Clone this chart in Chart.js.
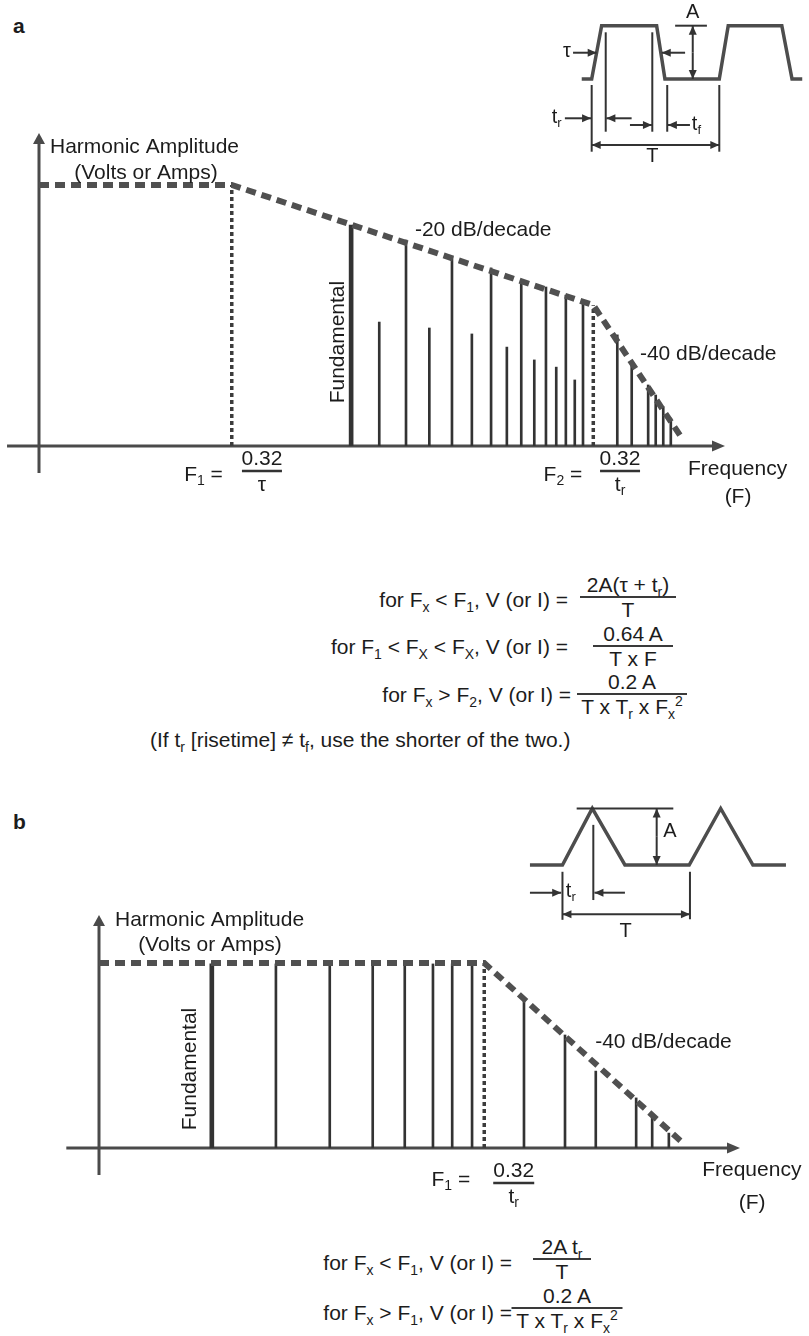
<!DOCTYPE html>
<html>
<head>
<meta charset="utf-8">
<script src="https://cdn.jsdelivr.net/npm/chart.js@4.4.1/dist/chart.umd.min.js"></script>
<style>
  body { margin: 0; background: #fff; width: 809px; height: 1336px; position: relative; overflow: hidden;
         font-family: "Liberation Sans", Arial, sans-serif; color: #1c1c1c; }
  canvas { position: absolute; }
  .panel { position: absolute; font-weight: bold; font-size: 21px; line-height: 24px; }
  .lhs { position: absolute; font-size: 21px; line-height: 24px; white-space: nowrap; text-align: right; }
  .note { position: absolute; font-size: 21px; line-height: 24px; white-space: nowrap; }
  .frac { position: absolute; transform: translateX(-50%); text-align: center; font-size: 21px; white-space: nowrap; }
  .frac .num { line-height: 22px; border-bottom: 2px solid #3a3a3a; }
  .frac .den { line-height: 24px; }
  sub { font-size: 14px; vertical-align: -5px; line-height: 0; }
  sup { font-size: 14px; vertical-align: 8px; line-height: 0; }
</style>
</head>
<body>
<div class="panel" style="left:13px; top:14px">a</div>
<div class="panel" style="left:13px; top:810px">b</div>

<canvas id="insetA" width="269" height="175" style="left:540px; top:0px"></canvas>
<canvas id="chartA" width="809" height="510" style="left:0px; top:0px"></canvas>
<canvas id="insetB" width="309" height="160" style="left:500px; top:790px"></canvas>
<canvas id="chartB" width="809" height="340" style="left:0px; top:880px"></canvas>

<!-- Formulas for panel a -->
<div class="lhs" style="right:241px; top:588px">for F<sub>x</sub> &lt; F<sub>1</sub>, V (or I) =</div>
<div class="frac" style="left:628px; top:574px; width:96px"><div class="num">2A(τ + t<sub>r</sub>)</div><div class="den">T</div></div>
<div class="lhs" style="right:241px; top:635px">for F<sub>1</sub> &lt; F<sub>X</sub> &lt; F<sub>X</sub>, V (or I) =</div>
<div class="frac" style="left:633px; top:623px; width:80px"><div class="num">0.64 A</div><div class="den">T x F</div></div>
<div class="lhs" style="right:238px; top:683px">for F<sub>x</sub> &gt; F<sub>2</sub>, V (or I) =</div>
<div class="frac" style="left:632px; top:671px; width:110px"><div class="num">0.2 A</div><div class="den">T x T<sub>r</sub> x F<sub>x</sub><sup>2</sup></div></div>
<div class="note" style="left:150px; top:728px">(If t<sub>r</sub> [risetime] ≠ t<sub>f</sub>, use the shorter of the two.)</div>

<!-- Formulas for panel b -->
<div class="lhs" style="right:297px; top:1251px">for F<sub>x</sub> &lt; F<sub>1</sub>, V (or I) =</div>
<div class="frac" style="left:562px; top:1236px; width:58px"><div class="num">2A t<sub>r</sub></div><div class="den">T</div></div>
<div class="lhs" style="right:297px; top:1301px">for F<sub>x</sub> &gt; F<sub>1</sub>, V (or I) =</div>
<div class="frac" style="left:567px; top:1285px; width:111px"><div class="num">0.2 A</div><div class="den">T x T<sub>r</sub> x F<sub>x</sub><sup>2</sup></div></div>

<script>
/* Panel a: trapezoid spectrum (frequency 0-100, amplitude 0-100). */
const aFundamentalFreq = [45.5]
const aFundamentalAmp = [70.6]
const aHarmonicFreq = [49.6, 53.5, 56.9, 60.2, 63.1, 65.9, 68.2, 70.3, 72.2, 73.9, 75.4, 76.8, 78.1, 79.3,
  84.3, 86.4, 88.8, 89.9, 91.0, 92.1]
const aHarmonicAmp = [39.6, 65.8, 37.7, 60.4, 35.8, 56.9, 31.6, 52.4, 27.5, 50.8, 25.2, 48.2, 21.1, 46.6,
  35.5, 26.8, 19.5, 16.3, 12.5, 8.9]
const aEnvelopeFreq = [0, 28.1, 80.8, 93.9]
const aEnvelopeAmp = [83.4, 83.4, 45.0, 1.9]
const aCorners = [28.1, 80.8]

/* Panel b: triangle spectrum. */
const bFundamentalFreq = [17.6]
const bFundamentalAmp = [79.0]
const bHarmonicFreq = [27.6, 36.0, 42.7, 47.7, 52.1, 55.1, 58.2, 66.3, 72.7, 77.5, 83.8, 86.3, 88.9]
const bHarmonicAmp = [79.0, 79.0, 79.0, 79.0, 79.0, 79.0, 79.0, 64.4, 48.5, 33.0, 21.5, 13.3, 6.4]
const bEnvelopeFreq = [0, 60.1, 91.1]
const bEnvelopeAmp = [79.4, 79.4, 2.1]
const bCorners = [60.1]

/* Inset waveforms (time with period T = 10, level 0-1). */
const aWaveTime = [-0.78, 0, 0.78, 5.09, 5.74, 10.0, 10.7, 14.9, 15.7, 16.5]
const aWaveLevel = [0, 0, 1, 1, 0, 0, 1, 1, 0, 0]
const bWaveTime = [-2.54, 0, 2.33, 4.88, 9.9, 12.36, 14.88, 17.46]
const bWaveLevel = [0, 0, 1, 0, 0, 1, 0, 0]

const FONT = '21px "Liberation Sans", Arial, sans-serif'
const SMALL = '14px "Liberation Sans", Arial, sans-serif'
const INK = "#1c1c1c"
const LINE = "#333"

/* Draw text made of normal, sub and sup pieces. */
const drawRich = (ctx, parts, x, y, align, font = FONT, small = SMALL) => {
  let w = 0
  parts.forEach(([t, m]) => {
    ctx.font = m ? small : font
    w += ctx.measureText(t).width
  })
  let cx = align === "center" ? x - w / 2 : align === "right" ? x - w : x
  ctx.textAlign = "left"
  ctx.textBaseline = "middle"
  parts.forEach(([t, m]) => {
    ctx.font = m ? small : font
    const dy = m === "sub" ? 6 : m === "sup" ? -7 : 0
    ctx.fillText(t, cx, y + dy)
    cx += ctx.measureText(t).width
  })
}

/* Filled arrow head with its tip at (x2, y2). */
const arrowHead = (ctx, x1, y1, x2, y2, len, half) => {
  const a = Math.atan2(y2 - y1, x2 - x1)
  const bx = x2 - len * Math.cos(a), by = y2 - len * Math.sin(a)
  ctx.beginPath()
  ctx.moveTo(x2, y2)
  ctx.lineTo(bx + half * Math.sin(a), by - half * Math.cos(a))
  ctx.lineTo(bx - half * Math.sin(a), by + half * Math.cos(a))
  ctx.closePath()
  ctx.fill()
}

/* Plugin drawing arrowed axes and annotations of a spectrum chart. */
const spectrumDecor = (spec) => ({
  id: "spectrumDecor",
  beforeDatasetsDraw(chart) {
    const { ctx, scales: { x, y } } = chart
    const x0 = x.getPixelForValue(0), y0 = y.getPixelForValue(0)
    ctx.save()
    ctx.strokeStyle = "#4a4a4a"
    ctx.fillStyle = "#4a4a4a"
    ctx.lineWidth = 3
    const xs = x.getPixelForValue(spec.axisStart[0]), xe = x.getPixelForValue(100)
    ctx.beginPath(); ctx.moveTo(xs, y0); ctx.lineTo(xe - 8, y0); ctx.stroke()
    arrowHead(ctx, xs, y0, xe, y0, 13, 5.5)
    const ys = y.getPixelForValue(spec.axisStart[1]), ye = y.getPixelForValue(100)
    ctx.beginPath(); ctx.moveTo(x0, ys); ctx.lineTo(x0, ye + 8); ctx.stroke()
    arrowHead(ctx, x0, ys, x0, ye, 11, 6)
    ctx.restore()
  },
  afterDatasetsDraw(chart) {
    const { ctx, scales: { x, y } } = chart
    ctx.save()
    ctx.fillStyle = INK
    spec.labels.forEach(l => {
      const px = x.getPixelForValue(l.x), py = y.getPixelForValue(l.y)
      if (l.rotate) {
        ctx.save()
        ctx.translate(px, py)
        ctx.rotate(-Math.PI / 2)
        drawRich(ctx, l.parts, 0, 0, "center")
        ctx.restore()
      } else {
        drawRich(ctx, l.parts, px, py, l.align)
      }
    })
    spec.fracs.forEach(f => {
      const px = x.getPixelForValue(f.x), py = y.getPixelForValue(f.y)
      drawRich(ctx, f.num, px, py - 12, "center")
      drawRich(ctx, f.den, px, py + 14, "center")
      ctx.strokeStyle = LINE
      ctx.lineWidth = 2.5
      ctx.beginPath(); ctx.moveTo(px - f.w / 2, py); ctx.lineTo(px + f.w / 2, py); ctx.stroke()
    })
    ctx.restore()
  }
})

const points = (xs, ys) => xs.map((v, i) => ({ x: v, y: ys[i] }))

/* Build a harmonic spectrum chart. */
const buildSpectrum = (id, d) => {
  const cornerLines = d.corners.map(c => ({
    type: "line",
    data: [{ x: c, y: 0 }, { x: c, y: d.envAmp[d.envFreq.indexOf(c)] }],
    borderColor: "#3c3c3c",
    borderWidth: 3.5,
    borderDash: [4, 3],
    pointRadius: 0,
    clip: false,
    order: 1
  }))
  return new Chart(document.getElementById(id), {
    type: "bar",
    data: {
      datasets: [
        {
          type: "line",
          data: points(d.envFreq, d.envAmp),
          borderColor: "#505050",
          borderWidth: 6,
          borderDash: [10, 6],
          pointRadius: 0,
          tension: 0,
          clip: false,
          order: 0
        },
        ...cornerLines,
        {
          data: points(d.fundFreq, d.fundAmp),
          backgroundColor: LINE,
          barThickness: 4,
          grouped: false,
          order: 2
        },
        {
          data: points(d.harmFreq, d.harmAmp),
          backgroundColor: LINE,
          barThickness: 2,
          grouped: false,
          order: 2
        }
      ]
    },
    options: {
      responsive: false,
      animation: false,
      events: [],
      layout: { padding: d.padding },
      scales: {
        x: { type: "linear", min: 0, max: 100, display: false, offset: false },
        y: { type: "linear", min: 0, max: 100, display: false }
      },
      plugins: { legend: { display: false }, tooltip: { enabled: false } }
    },
    plugins: [spectrumDecor(d.decor)]
  })
}

/* Plugin drawing dimension lines and labels of an inset waveform. */
const insetDecor = (spec) => ({
  id: "insetDecor",
  afterDatasetsDraw(chart) {
    const { ctx, scales: { x, y } } = chart
    const X = v => x.getPixelForValue(v), Y = v => y.getPixelForValue(v)
    ctx.save()
    ctx.strokeStyle = "#333"
    ctx.fillStyle = "#333"
    ctx.lineWidth = 2
    spec.hlines.forEach(([t1, t2, l]) => {
      ctx.beginPath(); ctx.moveTo(X(t1), Y(l)); ctx.lineTo(X(t2), Y(l)); ctx.stroke()
    })
    spec.vlines.forEach(([t, l1, l2]) => {
      ctx.beginPath(); ctx.moveTo(X(t), Y(l1)); ctx.lineTo(X(t), Y(l2)); ctx.stroke()
    })
    spec.arrows.forEach(([t1, l1, t2, l2, both]) => {
      const x1 = X(t1), y1 = Y(l1), x2 = X(t2), y2 = Y(l2)
      ctx.beginPath(); ctx.moveTo(x1, y1); ctx.lineTo(x2, y2); ctx.stroke()
      arrowHead(ctx, x1, y1, x2, y2, 9, 4)
      if (both) arrowHead(ctx, x2, y2, x1, y1, 9, 4)
    })
    ctx.fillStyle = INK
    const font = '20px "Liberation Sans", Arial, sans-serif'
    const small = '13px "Liberation Sans", Arial, sans-serif'
    spec.labels.forEach(l => drawRich(ctx, l.parts, X(l.t), Y(l.l), l.align, font, small))
    ctx.restore()
  }
})

/* Build an inset waveform chart. */
const buildInset = (id, t, v, spec) => new Chart(document.getElementById(id), {
  type: "line",
  data: {
    datasets: [{
      data: points(t, v),
      borderColor: "#4d4d4d",
      borderWidth: 3.5,
      pointRadius: 0,
      tension: 0,
      clip: false
    }]
  },
  options: {
    responsive: false,
    animation: false,
    events: [],
    layout: { padding: 0 },
    scales: {
      x: { type: "linear", min: spec.tRange[0], max: spec.tRange[1], display: false },
      y: { type: "linear", min: spec.lRange[0], max: spec.lRange[1], display: false }
    },
    plugins: { legend: { display: false }, tooltip: { enabled: false } }
  },
  plugins: [insetDecor(spec)]
})

/* Panel a chart. */
buildSpectrum("chartA", {
  fundFreq: aFundamentalFreq, fundAmp: aFundamentalAmp,
  harmFreq: aHarmonicFreq, harmAmp: aHarmonicAmp,
  envFreq: aEnvelopeFreq, envAmp: aEnvelopeAmp,
  corners: aCorners,
  padding: { left: 39, right: 84, top: 133, bottom: 64 },
  decor: {
    axisStart: [-4.66, -8.6],
    labels: [
      { parts: [["Harmonic Amplitude", ""]], x: 1.6, y: 95.5, align: "left" },
      { parts: [["(Volts or Amps)", ""]], x: 15.6, y: 87.2, align: "center" },
      { parts: [["-20 dB/decade", ""]], x: 54.8, y: 69.0, align: "left" },
      { parts: [["-40 dB/decade", ""]], x: 87.6, y: 29.4, align: "left" },
      { parts: [["Fundamental", ""]], x: 43.6, y: 33.2, rotate: true },
      { parts: [["F", ""], ["1", "sub"], [" =", ""]], x: 26.8, y: -9.3, align: "right" },
      { parts: [["F", ""], ["2", "sub"], [" =", ""]], x: 79.2, y: -9.3, align: "right" },
      { parts: [["Frequency", ""]], x: 94.6, y: -7.3, align: "left" },
      { parts: [["(F)", ""]], x: 101.9, y: -16.3, align: "center" }
    ],
    fracs: [
      { x: 32.5, y: -8.0, w: 40, num: [["0.32", ""]], den: [["τ", ""]] },
      { x: 84.7, y: -8.0, w: 40, num: [["0.32", ""]], den: [["t", ""], ["r", "sub"]] }
    ]
  }
})

/* Panel b chart. */
buildSpectrum("chartB", {
  fundFreq: bFundamentalFreq, fundAmp: bFundamentalAmp,
  harmFreq: bHarmonicFreq, harmAmp: bHarmonicAmp,
  envFreq: bEnvelopeFreq, envAmp: bEnvelopeAmp,
  corners: bCorners,
  padding: { left: 99, right: 69, top: 35, bottom: 72 },
  decor: {
    axisStart: [-5.1, -11.6],
    labels: [
      { parts: [["Harmonic Amplitude", ""]], x: 2.5, y: 97.9, align: "left" },
      { parts: [["(Volts or Amps)", ""]], x: 17.3, y: 87.1, align: "center" },
      { parts: [["-40 dB/decade", ""]], x: 77.4, y: 45.5, align: "left" },
      { parts: [["Fundamental", ""]], x: 14.2, y: 33.9, rotate: true },
      { parts: [["F", ""], ["1", "sub"], [" =", ""]], x: 57.9, y: -13.7, align: "right" },
      { parts: [["Frequency", ""]], x: 94.1, y: -9.4, align: "left" },
      { parts: [["(F)", ""]], x: 101.9, y: -23.6, align: "center" }
    ],
    fracs: [
      { x: 64.7, y: -15.0, w: 41, num: [["0.32", ""]], den: [["t", ""], ["r", "sub"]] }
    ]
  }
})

/* Inset a: trapezoid waveform with tau, rise, fall and period marks. */
buildInset("insetA", aWaveTime, aWaveLevel, {
  tRange: [-4.05, 17.03],
  lRange: [-1.801, 1.482],
  hlines: [[6.54, 9.03, 1]],
  vlines: [[0, -0.113, -1.364], [1.1, 0.876, -0.989], [4.75, 0.876, -0.989], [5.92, -0.113, -0.989], [10, -0.113, -1.364]],
  arrows: [
    [7.92, 0.5, 7.92, 1, false], [7.92, 0.5, 7.92, 0, false],
    [-1.46, 0.493, 0.39, 0.493, false], [7.32, 0.493, 5.49, 0.493, false],
    [-2.1, -0.737, -0.05, -0.737, false], [3.13, -0.737, 1.15, -0.737, false],
    [3.0, -0.863, 4.72, -0.863, false], [7.7, -0.863, 5.97, -0.863, false],
    [0, -1.238, 10, -1.238, true]
  ],
  labels: [
    { parts: [["A", ""]], t: 7.92, l: 1.24, align: "center" },
    { parts: [["τ", ""]], t: -1.94, l: 0.52, align: "center" },
    { parts: [["t", ""], ["r", "sub"]], t: -2.75, l: -0.72, align: "center" },
    { parts: [["t", ""], ["f", "sub"]], t: 7.85, l: -0.85, align: "left" },
    { parts: [["T", ""]], t: 4.75, l: -1.46, align: "center" }
  ]
})

/* Inset b: triangle waveform with rise and period marks. */
buildInset("insetB", bWaveTime, bWaveLevel, {
  tRange: [-4.88, 19.26],
  lRange: [-1.504, 1.327],
  hlines: [[1.11, 8.66, 1]],
  vlines: [[0, -0.12, -0.97], [2.41, 0.71, -0.62], [9.96, -0.12, -0.96]],
  arrows: [
    [7.36, 0.5, 7.36, 1, false], [7.36, 0.5, 7.36, 0, false],
    [-2.54, -0.49, -0.1, -0.49, false], [4.88, -0.49, 2.5, -0.49, false],
    [0, -0.87, 9.96, -0.87, true]
  ],
  labels: [
    { parts: [["A", ""]], t: 8.4, l: 0.59, align: "center" },
    { parts: [["t", ""], ["r", "sub"]], t: 0.65, l: -0.47, align: "center" },
    { parts: [["T", ""]], t: 4.94, l: -1.18, align: "center" }
  ]
})
</script>
</body>
</html>
